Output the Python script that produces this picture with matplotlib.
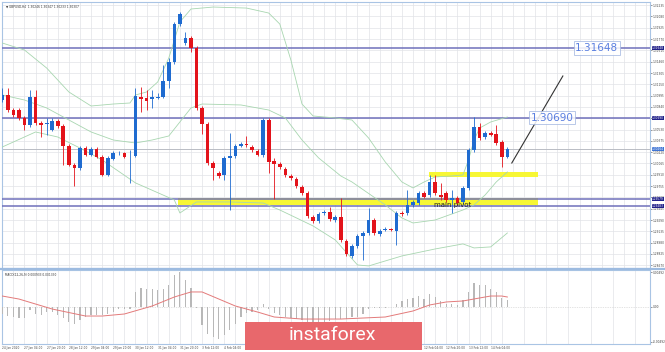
"""GBPUSD H4 chart with Bollinger bands, levels and MACD panel."""

import matplotlib
matplotlib.use("Agg")
import matplotlib.pyplot as plt
import matplotlib.transforms as mtransforms
from matplotlib.patches import Rectangle
import numpy as np

# ---- candles ----
opens = [
    1.30935, 1.31004, 1.30798, 1.30798, 1.30689, 1.30592, 1.30976, 1.30620, 1.30606, 1.30524,
    1.30647, 1.30579, 1.30305, 1.30045, 1.30004, 1.30277, 1.30182, 1.30264, 1.30154, 1.29908,
    1.30127, 1.30202, 1.30209, 1.30161, 1.30168, 1.30976, 1.30962, 1.30949, 1.30969, 1.30976,
    1.31195, 1.31456, 1.31976, 1.31716, 1.31784, 1.31647, 1.30826, 1.30606, 1.30072, 1.29935,
    1.29908, 1.30141, 1.30168, 1.30305, 1.30332, 1.30291, 1.30236, 1.30182, 1.30661, 1.30099,
    1.30059, 1.29990, 1.29894, 1.29853, 1.29744, 1.29662, 1.29332, 1.29278, 1.29387, 1.29401,
    1.29291, 1.29332, 1.29004, 1.28798, 1.28935, 1.29072, 1.29113, 1.29291, 1.29099, 1.29154,
    1.29168, 1.29140, 1.29387, 1.29387, 1.29497, 1.29524, 1.29662, 1.29634, 1.29812, 1.29634,
    1.29662, 1.29565, 1.29593, 1.29538, 1.29730, 1.30250, 1.30565, 1.30428, 1.30483, 1.30469,
    1.30360, 1.30154,
]
highs = [
    1.31099, 1.31099, 1.30826, 1.30826, 1.30716, 1.31072, 1.31072, 1.30647, 1.30689, 1.30689,
    1.30675, 1.30606, 1.30332, 1.30072, 1.30305, 1.30305, 1.30291, 1.30291, 1.30182, 1.30168,
    1.30236, 1.30236, 1.30223, 1.30250, 1.31099, 1.31113, 1.31072, 1.31072, 1.31031, 1.31415,
    1.31510, 1.32004, 1.32141, 1.31867, 1.31812, 1.31675, 1.30853, 1.30634, 1.30099, 1.29963,
    1.30168, 1.30483, 1.30332, 1.30360, 1.30442, 1.30319, 1.30264, 1.30689, 1.30689, 1.30141,
    1.30086, 1.30018, 1.29922, 1.29881, 1.29771, 1.29689, 1.29360, 1.29401, 1.29428, 1.29469,
    1.29360, 1.29593, 1.29031, 1.28963, 1.29099, 1.29140, 1.29456, 1.29319, 1.29168, 1.29195,
    1.29181, 1.29415, 1.29415, 1.29703, 1.29565, 1.29689, 1.29689, 1.29908, 1.29908, 1.29799,
    1.29689, 1.29703, 1.29620, 1.29757, 1.30277, 1.30702, 1.30620, 1.30510, 1.30510, 1.30592,
    1.30387, 1.30291,
]
lows = [
    1.30908, 1.30771, 1.30702, 1.30661, 1.30524, 1.30565, 1.30592, 1.30428, 1.30455, 1.30510,
    1.30551, 1.30045, 1.30031, 1.29757, 1.29976, 1.30168, 1.30168, 1.30141, 1.29894, 1.29894,
    1.30113, 1.30182, 1.30141, 1.29799, 1.30154, 1.30771, 1.30798, 1.30826, 1.30949, 1.30962,
    1.31099, 1.31428, 1.31949, 1.31689, 1.31593, 1.30798, 1.30469, 1.30045, 1.29840, 1.29867,
    1.29840, 1.29428, 1.30141, 1.30291, 1.30291, 1.30223, 1.30168, 1.30154, 1.29935, 1.29579,
    1.29990, 1.29881, 1.29840, 1.29730, 1.29634, 1.29319, 1.29250, 1.29250, 1.29360, 1.29278,
    1.29264, 1.28990, 1.28798, 1.28770, 1.28908, 1.28743, 1.29086, 1.29086, 1.29072, 1.29140,
    1.29140, 1.28949, 1.29346, 1.29360, 1.29469, 1.29497, 1.29593, 1.29606, 1.29634, 1.29565,
    1.29538, 1.29387, 1.29497, 1.29510, 1.29703, 1.30223, 1.30387, 1.30401, 1.30442, 1.30319,
    1.30018, 1.30141,
]
closes = [
    1.31004, 1.30798, 1.30730, 1.30689, 1.30592, 1.30976, 1.30620, 1.30592, 1.30620, 1.30647,
    1.30579, 1.30305, 1.30045, 1.30004, 1.30277, 1.30182, 1.30264, 1.30154, 1.29908, 1.30141,
    1.30209, 1.30209, 1.30154, 1.30168, 1.30990, 1.30949, 1.30921, 1.30976, 1.30976, 1.31195,
    1.31456, 1.31976, 1.32113, 1.31784, 1.31647, 1.30826, 1.30606, 1.30072, 1.30004, 1.29894,
    1.30141, 1.30168, 1.30305, 1.30332, 1.30325, 1.30250, 1.30182, 1.30661, 1.30086, 1.30059,
    1.30018, 1.29908, 1.29867, 1.29757, 1.29662, 1.29346, 1.29278, 1.29373, 1.29401, 1.29305,
    1.29332, 1.29017, 1.28825, 1.28935, 1.29072, 1.29113, 1.29291, 1.29113, 1.29140, 1.29168,
    1.29154, 1.29387, 1.29373, 1.29497, 1.29538, 1.29662, 1.29606, 1.29812, 1.29662, 1.29606,
    1.29565, 1.29593, 1.29524, 1.29730, 1.30250, 1.30565, 1.30414, 1.30483, 1.30455, 1.30346,
    1.30154, 1.30264,
]

# ---- Bollinger bands, sampled along the chart ----
upper_idx = [0, 4, 8, 12, 16, 20, 23, 24, 26, 28, 30, 32, 34, 38, 44, 48, 50, 52, 54, 56,
             60, 63, 66, 69, 72, 74, 76, 78, 81, 83, 84, 85, 86, 88, 91]
upper_val = [1.31716, 1.31620, 1.31373, 1.31045, 1.30853, 1.30880, 1.30894, 1.31004, 1.31045,
             1.31182, 1.31510, 1.32004, 1.32182, 1.32209, 1.32195, 1.32127, 1.31976, 1.31483,
             1.30880, 1.30716, 1.30689, 1.30661, 1.30414, 1.30086, 1.29812, 1.29730, 1.29812,
             1.29881, 1.29894, 1.29908, 1.30113, 1.30387, 1.30551, 1.30634, 1.30702]
middle_idx = [0, 4, 8, 12, 16, 20, 24, 27, 30, 32, 34, 36, 43, 48, 51, 54, 57, 61, 63, 69,
              72, 74, 78, 83, 85, 87, 89, 91]
middle_val = [1.31004, 1.30935, 1.30826, 1.30661, 1.30497, 1.30387, 1.30346, 1.30387, 1.30442,
              1.30634, 1.30826, 1.30880, 1.30867, 1.30798, 1.30689, 1.30387, 1.30141, 1.29894,
              1.29812, 1.29497, 1.29319, 1.29250, 1.29291, 1.29428, 1.29497, 1.29634, 1.29812,
              1.29949]
lower_idx = [0, 6, 10, 14, 18, 24, 31, 32, 35, 41, 47, 50, 53, 56, 60, 64, 66, 72, 78, 83,
             85, 88, 91]
lower_val = [1.30291, 1.30497, 1.30428, 1.30277, 1.30113, 1.29799, 1.29565, 1.29387, 1.29538,
             1.29538, 1.29524, 1.29428, 1.29319, 1.29209, 1.29017, 1.28675, 1.28661, 1.28798,
             1.28894, 1.28963, 1.28908, 1.28922, 1.29113]

# ---- MACD ----
macd_hist = [
    -0.00093, -0.00120, -0.00133, -0.00146, -0.00146, -0.00040, -0.00093, -0.00106, -0.00067, -0.00067,
    -0.00106, -0.00146, -0.00200, -0.00226, -0.00173, -0.00133, -0.00106, -0.00106, -0.00106, -0.00093,
    -0.00067, -0.00027, -0.00027, -0.00027, 0.00200, 0.00253, 0.00239, 0.00239, 0.00226, 0.00239,
    0.00293, 0.00426, 0.00466, 0.00359, 0.00253, -0.00013, -0.00239, -0.00359, -0.00399, -0.00426,
    -0.00372, -0.00306, -0.00226, -0.00133, -0.00080, -0.00067, -0.00040, 0.00040, -0.00027, -0.00080,
    -0.00106, -0.00133, -0.00146, -0.00160, -0.00173, -0.00200, -0.00213, -0.00213, -0.00200, -0.00186,
    -0.00160, -0.00160, -0.00160, -0.00133, -0.00133, -0.00093, -0.00027, -0.00013, -0.00013, -0.00013,
    0.00003, 0.00040, 0.00080, 0.00106, 0.00120, 0.00146, 0.00106, 0.00173, 0.00133, 0.00080,
    0.00040, 0.00040, 0.00027, 0.00093, 0.00200, 0.00319, 0.00293, 0.00293, 0.00239, 0.00200,
    0.00120, 0.00093,
]
signal_idx = [0, 3, 9, 15, 18, 22, 27, 31, 34, 36, 42, 46, 49, 54, 61, 69, 74, 77, 80, 83,
              86, 88, 90, 91]
signal_val = [0.00146, 0.00106, -0.00027, -0.00120, -0.00120, -0.00093, 0.00013, 0.00133,
              0.00200, 0.00200, 0.00013, -0.00067, -0.00133, -0.00160, -0.00160, -0.00133,
              -0.00053, 0.00027, 0.00067, 0.00080, 0.00120, 0.00146, 0.00146, 0.00133]
macd_ticks = [0.0046, 0.0, -0.0046]
macd_tick_labels = ["0.00492", "0.00", "-0.00492"]

# ---- levels and drawings ----
level_prices = [1.31648, 1.30690, 1.29579, 1.29483]
level_labels = ["1.31648", "1.30690"]
level_label_idx = [107.1, 99.1]
current_price = 1.30264
zone_upper = (76.8, 96.6, 1.29874, 1.29942)   # x0, x1, y0, y1
zone_pivot = (31.7, 96.6, 1.29497, 1.29593)
trend_idx = [91.8, 101.0]
trend_price = [1.30072, 1.31264]

price_ticks = [1.32235, 1.32080, 1.31925, 1.31770, 1.31615, 1.31460, 1.31305, 1.31150,
               1.30995, 1.30840, 1.30685, 1.30530, 1.30375, 1.30220, 1.30065, 1.29910,
               1.29755, 1.29600, 1.29445, 1.29290, 1.29135, 1.28980, 1.28825, 1.28670]
date_idx = list(range(0, 92, 4))
date_labels = ["24 Jan 2020", "27 Jan 04:00", "27 Jan 20:00", "28 Jan 12:00", "29 Jan 04:00",
               "29 Jan 20:00", "30 Jan 12:00", "31 Jan 04:00", "31 Jan 20:00", "3 Feb 12:00",
               "4 Feb 04:00", "4 Feb 20:00", "5 Feb 12:00", "6 Feb 04:00", "6 Feb 20:00",
               "7 Feb 12:00", "10 Feb 04:00", "10 Feb 20:00", "11 Feb 12:00", "12 Feb 04:00",
               "12 Feb 20:00", "13 Feb 12:00", "14 Feb 04:00"]

BLUE = "#1f6bd0"
RED = "#e3131b"
FRAME = "#a9c4e4"
W, H = 665, 352
XMIN, XMAX = -0.05, 116.7
TINY = 2.1


def draw_candles(ax):
    o = np.array(opens)
    c = np.array(closes)
    idx = np.arange(len(o))
    colors = np.where(c >= o, BLUE, RED)
    ax.vlines(idx, lows, highs, colors=colors, lw=0.6, zorder=4)
    body = np.where(np.abs(c - o) < 0.00004, 0.00004, c - o)
    ax.bar(idx, body, bottom=o, width=0.66, color=colors, zorder=5, linewidth=0)


fig = plt.figure(figsize=(W / 100, H / 100), dpi=100)
ax = fig.add_axes([2 / W, 1 - 268 / H, 648 / W, 266 / H])
ax2 = fig.add_axes([2 / W, 1 - 344 / H, 648 / W, 74 / H])

# main panel
ax.set_xlim(XMIN, XMAX)
ax.set_ylim(1.28633, 1.32278)
ax.set_yticks(price_ticks)
ax.set_yticklabels([f"{p:.5f}" for p in price_ticks])
ax.set_xticks(range(0, 117, 2))
ax.set_xticklabels([])
ax.grid(True, color="#e1e3e8", lw=0.5, zorder=0)
ax.tick_params(axis="y", left=False, right=True, labelleft=False, labelright=True,
               labelsize=TINY, length=1.2, pad=0.8, colors="#444444", width=0.4)
ax.tick_params(axis="x", length=0)
for s in ax.spines.values():
    s.set_color(FRAME)
    s.set_linewidth(0.8)

ax.axhline(current_price, color="#b9bcc4", lw=0.7, zorder=2)
for p in level_prices:
    ax.axhline(p, color="#6f70bb", lw=1.1, zorder=3)

for x0, x1, y0, y1 in (zone_upper, zone_pivot):
    ax.add_patch(Rectangle((x0, y0), x1 - x0, y1 - y0, fc="#f7f734", ec="none", zorder=2.5))

ax.plot(upper_idx, upper_val, color="#a8d6b0", lw=0.6, zorder=3.5)
ax.plot(middle_idx, middle_val, color="#a8d6b0", lw=0.6, zorder=3.5)
ax.plot(lower_idx, lower_val, color="#a8d6b0", lw=0.6, zorder=3.5)

draw_candles(ax)

ax.plot(trend_idx, trend_price, color="#333333", lw=0.8, zorder=6)
ax.text(77.8, 1.29503, "main pivot", fontsize=5, color="#222222", va="center", ha="left",
        zorder=7)

for lbl, xi, p in zip(level_labels, level_label_idx, level_prices):
    ax.text(xi, p, lbl, fontsize=7.5, color="#5a7fe0", ha="center", va="center", zorder=7,
            bbox=dict(boxstyle="square,pad=0.15", fc="white", ec="#9fb4e0", lw=0.6, alpha=0.85))

trans = mtransforms.blended_transform_factory(ax.transAxes, ax.transData)
for p in level_prices:
    ax.text(1.003, p, f"{p:.5f}", transform=trans, fontsize=TINY, color="white", ha="left",
            va="center", clip_on=False, zorder=10,
            bbox=dict(boxstyle="square,pad=0.12", fc="#22228a", ec="none"))
ax.text(1.003, current_price, f"{current_price:.5f}", transform=trans, fontsize=TINY,
        color="white", ha="left", va="center", clip_on=False, zorder=10,
        bbox=dict(boxstyle="square,pad=0.12", fc="#3f74d4", ec="none"))

ax.text(0.006, 0.992, "\u25bc GBPUSD,H4  1.30246 1.30347 1.30233 1.30307", transform=ax.transAxes,
        fontsize=TINY, color="#333333", ha="left", va="top")

# MACD panel
idx = np.arange(len(macd_hist))
ax2.set_xlim(XMIN, XMAX)
ax2.set_ylim(-0.00492, 0.00492)
ax2.bar(idx, macd_hist, width=0.22, color="#b8b8b8", zorder=3, linewidth=0)
ax2.plot(signal_idx, signal_val, color="#e37a7a", lw=0.7, zorder=4)
ax2.axhline(0, color="#c8c8c8", lw=0.5, ls=(0, (1, 1.5)), zorder=2)
ax2.set_xticks(date_idx)
ax2.set_xticklabels(date_labels, ha="left")
ax2.set_xticks(range(2, 117, 4), minor=True)
ax2.grid(True, axis="x", which="both", color="#e1e3e8", lw=0.5, zorder=0)
ax2.set_yticks(macd_ticks)
ax2.set_yticklabels(macd_tick_labels)
ax2.tick_params(axis="y", left=False, right=True, labelleft=False, labelright=True,
                labelsize=TINY, length=1.2, pad=0.6, colors="#444444", width=0.4)
ax2.tick_params(axis="x", which="both", length=0, labelsize=TINY, pad=1.2, colors="#444444")
for s in ax2.spines.values():
    s.set_color(FRAME)
    s.set_linewidth(0.8)
ax2.text(0.004, 0.96, "MACD(12,26,9) 0.000933 0.001330", transform=ax2.transAxes,
         fontsize=TINY, color="#333333", ha="left", va="top")

# panel separator
fig.add_artist(plt.Line2D([0, 1], [1 - 268.8 / H, 1 - 268.8 / H], color="#9dbbe0", lw=1.6,
                          transform=fig.transFigure))

# logo
fig.add_artist(Rectangle((245 / W, 2 / H), 177 / W, 28 / H, transform=fig.transFigure,
                         fc="#e8686c", ec="none", zorder=20))
fig.text(332 / W, 1 - 335.5 / H, "instaforex", fontsize=14, color="white", family="Roboto",
         ha="center", va="center", zorder=21)

fig.savefig("out.png", dpi=100)
